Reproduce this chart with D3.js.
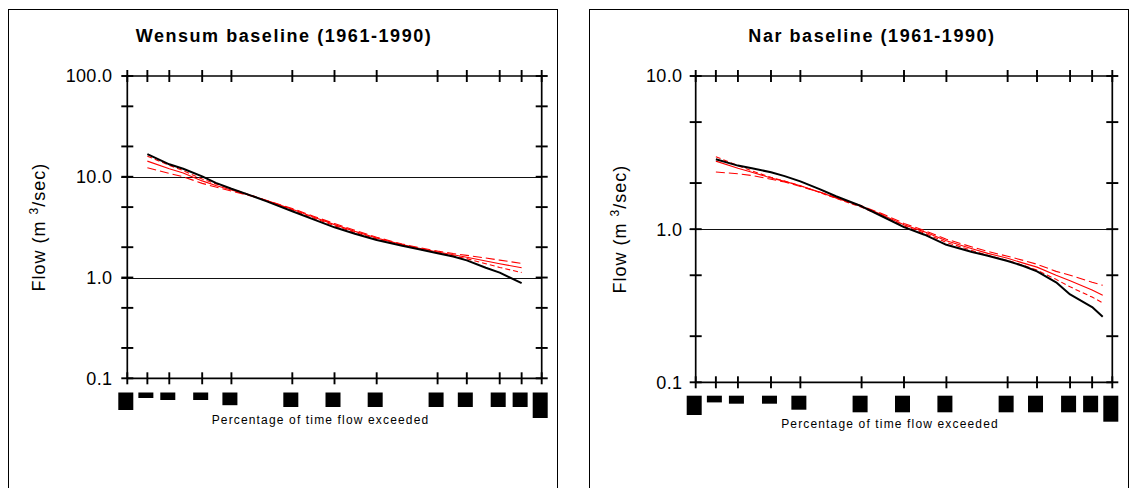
<!DOCTYPE html>
<html>
<head>
<meta charset="utf-8">
<script src="https://cdn.jsdelivr.net/npm/d3@7"></script>
<style>
  body { margin: 0; background: #fff; }
  svg { display: block; }
  text { font-family: "Liberation Sans", Arial, Helvetica, sans-serif; fill: #000; }
</style>
</head>
<body>
<svg id="chart" width="1133" height="488"></svg>
<script>
// ---- Flow duration data (percentage of time exceeded -> flow, m3/s) ----
const exceedTicks = [0.5, 1, 2, 5, 10, 30, 50, 70, 90, 95, 98, 99, 99.5];

const wensumTitle = "Wensum baseline (1961-1990)";
const wensumPct = [1, 2, 3, 5, 7, 10, 15, 20, 30, 40, 50, 60, 70, 80, 85, 90, 93, 95, 97, 98, 99];
const wensumObserved = [16.8, 13.3, 12.0, 10.1, 8.7, 7.6, 6.5, 5.7, 4.55, 3.75, 3.15, 2.72, 2.36, 2.07, 1.92, 1.74, 1.62, 1.48, 1.25, 1.12, 0.88];
const wensumRunSteep = [16.0, 13.0, 11.5, 9.5, 8.5, 7.6, 6.55, 5.8, 4.68, 3.88, 3.27, 2.8, 2.42, 2.09, 1.93, 1.76, 1.64, 1.54, 1.37, 1.26, 1.12];
const wensumRunMid = [14.3, 12.0, 10.9, 9.1, 8.2, 7.4, 6.5, 5.8, 4.76, 3.96, 3.35, 2.87, 2.47, 2.12, 1.96, 1.79, 1.68, 1.59, 1.46, 1.37, 1.25];
const wensumRunFlat = [12.3, 10.8, 10.0, 8.6, 7.9, 7.2, 6.45, 5.8, 4.84, 4.04, 3.43, 2.94, 2.51, 2.15, 1.99, 1.83, 1.73, 1.66, 1.56, 1.49, 1.38];
const wensumFlowTicks = [0.1, 0.2, 0.5, 1, 2, 5, 10, 20, 50, 100];
const wensumFlowLabels = [0.1, 1, 10, 100];
const wensumGrid = [1, 10];

const narTitle = "Nar baseline (1961-1990)";
const narPct = [1, 2, 3, 5, 7, 10, 15, 20, 30, 40, 50, 60, 70, 80, 85, 90, 93, 95, 97, 98, 99, 99.3];
const narObserved = [2.86, 2.6, 2.5, 2.35, 2.22, 2.05, 1.82, 1.64, 1.41, 1.2, 1.03, 0.92, 0.79, 0.71, 0.67, 0.62, 0.575, 0.53, 0.45, 0.375, 0.31, 0.268];
const narRunSteep = [2.97, 2.6, 2.4, 2.18, 2.06, 1.92, 1.73, 1.59, 1.39, 1.21, 1.05, 0.94, 0.82, 0.725, 0.675, 0.625, 0.58, 0.54, 0.47, 0.42, 0.36, 0.33];
const narRunMid = [2.78, 2.5, 2.35, 2.16, 2.05, 1.92, 1.74, 1.6, 1.41, 1.23, 1.07, 0.96, 0.84, 0.745, 0.695, 0.645, 0.6, 0.565, 0.5, 0.46, 0.4, 0.37];
const narRunFlat = [2.36, 2.3, 2.24, 2.12, 2.03, 1.9, 1.74, 1.61, 1.42, 1.25, 1.09, 0.98, 0.86, 0.765, 0.715, 0.665, 0.625, 0.59, 0.53, 0.5, 0.45, 0.43];
const narFlowTicks = [0.1, 0.2, 0.5, 1, 2, 5, 10];
const narFlowLabels = [0.1, 1, 10];
const narGrid = [1];

const xAxisTitle = "Percentage of time flow exceeded";

// ---- Inverse standard normal CDF (Acklam) for the probability axis ----
function probit(p) {
  const a = [-3.969683028665376e+01, 2.209460984245205e+02, -2.759285104469687e+02,
             1.383577518672690e+02, -3.066479806614716e+01, 2.506628277459239e+00];
  const b = [-5.447609879822406e+01, 1.615858368580409e+02, -1.556989798598866e+02,
             6.680131188771972e+01, -1.328068155288572e+01];
  const c = [-7.784894002430293e-03, -3.223964580411365e-01, -2.400758277161838e+00,
             -2.549732539343734e+00, 4.374664141464968e+00, 2.938163982698783e+00];
  const d = [7.784695709041462e-03, 3.224671290700398e-01, 2.445134137142996e+00,
             3.754408661907416e+00];
  const pl = 0.02425, ph = 1 - pl;
  let q, r;
  if (p < pl) {
    q = Math.sqrt(-2 * Math.log(p));
    return (((((c[0]*q+c[1])*q+c[2])*q+c[3])*q+c[4])*q+c[5]) / ((((d[0]*q+d[1])*q+d[2])*q+d[3])*q+1);
  }
  if (p <= ph) {
    q = p - 0.5; r = q * q;
    return (((((a[0]*r+a[1])*r+a[2])*r+a[3])*r+a[4])*r+a[5])*q / (((((b[0]*r+b[1])*r+b[2])*r+b[3])*r+b[4])*r+1);
  }
  q = Math.sqrt(-2 * Math.log(1 - p));
  return -(((((c[0]*q+c[1])*q+c[2])*q+c[3])*q+c[4])*q+c[5]) / ((((d[0]*q+d[1])*q+d[2])*q+d[3])*q+1);
}

const svg = d3.select("#chart");

function zip(pct, vals) { return pct.map((p, i) => ({ p, v: vals[i] })); }

function drawPanel(cfg) {
  const g = svg.append("g");

  // outer frame
  g.append("rect")
    .attr("x", cfg.frame.x + 0.5).attr("y", cfg.frame.y + 0.5)
    .attr("width", cfg.frame.w).attr("height", cfg.frame.h)
    .attr("fill", "none").attr("stroke", "#000").attr("stroke-width", 1);

  // title
  g.append("text")
    .attr("x", cfg.titleX).attr("y", cfg.titleY)
    .attr("text-anchor", "middle")
    .style("font-size", "18px").style("font-weight", "bold").style("letter-spacing", "1.55px")
    .text(cfg.title);

  const zs = d3.scaleLinear()
    .domain([probit(0.005), probit(0.995)])
    .range([cfg.x0, cfg.x1]);
  const x = p => zs(probit(p / 100));
  const y = d3.scaleLog().domain(cfg.yDomain).range([cfg.y1, cfg.y0]);

  // gridlines
  g.selectAll(".grid").data(cfg.grid).join("line")
    .attr("x1", cfg.x0 - 6).attr("x2", cfg.x1)
    .attr("y1", d => Math.round(y(d)) + 0.5).attr("y2", d => Math.round(y(d)) + 0.5)
    .attr("stroke", "#111").attr("stroke-width", 1);

  // axes box lines
  const axStroke = 1.7;
  g.append("line").attr("x1", cfg.x0).attr("x2", cfg.x1).attr("y1", cfg.y0).attr("y2", cfg.y0)
    .attr("stroke", "#000").attr("stroke-width", axStroke);
  g.append("line").attr("x1", cfg.x0).attr("x2", cfg.x1).attr("y1", cfg.y1).attr("y2", cfg.y1)
    .attr("stroke", "#000").attr("stroke-width", axStroke);
  g.append("line").attr("x1", cfg.x0).attr("x2", cfg.x0).attr("y1", cfg.y0).attr("y2", cfg.y1)
    .attr("stroke", "#000").attr("stroke-width", axStroke);
  g.append("line").attr("x1", cfg.x1).attr("x2", cfg.x1).attr("y1", cfg.y0).attr("y2", cfg.y1)
    .attr("stroke", "#000").attr("stroke-width", axStroke);

  // cross ticks on x axes (top and bottom)
  const tl = 6;
  const tickStroke = 1.9;
  [cfg.y0, cfg.y1].forEach(yy => {
    g.selectAll(null).data(exceedTicks).join("line")
      .attr("x1", d => x(d)).attr("x2", d => x(d))
      .attr("y1", yy - tl).attr("y2", yy + tl)
      .attr("stroke", "#000").attr("stroke-width", tickStroke);
  });
  // cross ticks on y axes (left and right)
  [cfg.x0, cfg.x1].forEach(xx => {
    g.selectAll(null).data(cfg.yTicks).join("line")
      .attr("x1", xx - tl).attr("x2", xx + tl)
      .attr("y1", d => y(d)).attr("y2", d => y(d))
      .attr("stroke", "#000").attr("stroke-width", tickStroke);
  });

  // y tick labels
  g.selectAll(null).data(cfg.yLabels).join("text")
    .attr("x", cfg.x0 - cfg.labelGap).attr("y", d => y(d))
    .attr("dy", "0.36em").attr("text-anchor", "end")
    .style("font-size", "18px").style("letter-spacing", "0.3px")
    .text(d => d.toFixed(1));

  // x tick label glyph blocks
  g.selectAll(null).data(exceedTicks).join("rect")
    .attr("x", d => x(d) - 9).attr("y", cfg.blockTop)
    .attr("width", 15)
    .attr("height", (d, i) => cfg.blockH[i])
    .attr("fill", "#000");

  // x axis title
  g.append("text")
    .attr("x", (cfg.x0 + cfg.x1) / 2 - 14).attr("y", cfg.xTitleY)
    .attr("text-anchor", "middle")
    .style("font-size", "12px").style("letter-spacing", "1.15px")
    .text(xAxisTitle);

  // y axis title
  const yt = g.append("text")
    .attr("transform", `translate(${cfg.yTitleX},${(cfg.y0 + cfg.y1) / 2}) rotate(-90)`)
    .attr("text-anchor", "middle")
    .style("font-size", "18px").style("letter-spacing", "1px");
  yt.append("tspan").text("Flow (m ");
  yt.append("tspan").attr("dy", -7).style("font-size", "12px").text("3");
  yt.append("tspan").attr("dy", 7).text("/sec)");

  // series
  const line = d3.line().x(d => x(d.p)).y(d => y(d.v));
  const plot = g.append("g");
  cfg.runs.forEach(r => {
    plot.append("path")
      .datum(zip(cfg.pct, r.values))
      .attr("d", line)
      .attr("fill", "none")
      .attr("stroke", "#ff0000")
      .attr("stroke-width", 1.1)
      .attr("stroke-dasharray", r.dash)
      .attr("stroke-linejoin", "round");
  });
  plot.append("path")
    .datum(zip(cfg.pct, cfg.observed))
    .attr("d", line)
    .attr("fill", "none")
    .attr("stroke", "#000")
    .attr("stroke-width", 2)
    .attr("stroke-linejoin", "round");
}

drawPanel({
  title: wensumTitle, titleX: 284, titleY: 42,
  frame: { x: 8, y: 9, w: 549, h: 500 },
  x0: 127.3, x1: 541.7, y0: 76, y1: 378.3,
  yDomain: [0.1, 100], yTicks: wensumFlowTicks, yLabels: wensumFlowLabels, grid: wensumGrid,
  labelGap: 15, yTitleX: 45, xTitleY: 424,
  blockTop: 392.5,
  blockH: [17.5, 5.5, 7.5, 7.5, 12.7, 14.5, 14.5, 14.5, 14.5, 14.5, 14.5, 14.5, 25.5],
  pct: wensumPct, observed: wensumObserved,
  runs: [
    { values: wensumRunSteep, dash: "5,3" },
    { values: wensumRunMid, dash: null },
    { values: wensumRunFlat, dash: "9,4" }
  ]
});

drawPanel({
  title: narTitle, titleX: 872, titleY: 42,
  frame: { x: 589, y: 9, w: 539, h: 500 },
  x0: 695.7, x1: 1112.3, y0: 76, y1: 382.3,
  yDomain: [0.1, 10], yTicks: narFlowTicks, yLabels: narFlowLabels, grid: narGrid,
  labelGap: 13.4, yTitleX: 626, xTitleY: 428,
  blockTop: 395.7,
  blockH: [19.3, 6.7, 8, 8, 14, 16.6, 16.6, 16.6, 16.6, 16.6, 16.6, 16.6, 26],
  pct: narPct, observed: narObserved,
  runs: [
    { values: narRunSteep, dash: "5,3" },
    { values: narRunMid, dash: null },
    { values: narRunFlat, dash: "9,4" }
  ]
});
</script>
</body>
</html>
